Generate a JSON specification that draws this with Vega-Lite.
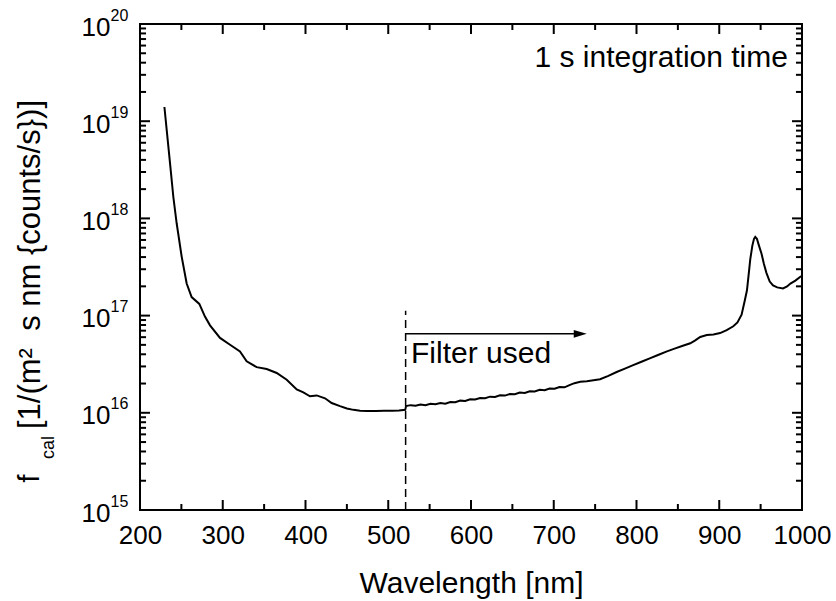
{
  "$schema": "https://vega.github.io/schema/vega-lite/v6.json",
  "width": 662,
  "height": 486,
  "autosize": {"type": "none"},
  "padding": {"left": 140, "top": 24, "right": 34, "bottom": 91},
  "background": "white",
  "config": {
    "font": "Liberation Sans",
    "view": {"stroke": "black", "strokeWidth": 2},
    "axis": {
      "grid": false,
      "domain": false,
      "ticks": false,
      "labelFont": "Liberation Sans",
      "titleFont": "Liberation Sans",
      "labelColor": "black",
      "titleColor": "black",
      "titleFontWeight": "normal",
      "labelFontSize": 26,
      "titleFontSize": 30
    }
  },
  "datasets": {
    "xmajor": [{"v": 200}, {"v": 300}, {"v": 400}, {"v": 500}, {"v": 600}, {"v": 700}, {"v": 800}, {"v": 900}, {"v": 1000}],
    "xminor": [{"v": 250}, {"v": 350}, {"v": 450}, {"v": 550}, {"v": 650}, {"v": 750}, {"v": 850}, {"v": 950}],
    "ymajor": [{"v": 1e15}, {"v": 1e16}, {"v": 1e17}, {"v": 1e18}, {"v": 1e19}, {"v": 1e20}],
    "yminor": [
      {"v": 2e15}, {"v": 3e15}, {"v": 4e15}, {"v": 5e15}, {"v": 6e15}, {"v": 7e15}, {"v": 8e15}, {"v": 9e15},
      {"v": 2e16}, {"v": 3e16}, {"v": 4e16}, {"v": 5e16}, {"v": 6e16}, {"v": 7e16}, {"v": 8e16}, {"v": 9e16},
      {"v": 2e17}, {"v": 3e17}, {"v": 4e17}, {"v": 5e17}, {"v": 6e17}, {"v": 7e17}, {"v": 8e17}, {"v": 9e17},
      {"v": 2e18}, {"v": 3e18}, {"v": 4e18}, {"v": 5e18}, {"v": 6e18}, {"v": 7e18}, {"v": 8e18}, {"v": 9e18},
      {"v": 2e19}, {"v": 3e19}, {"v": 4e19}, {"v": 5e19}, {"v": 6e19}, {"v": 7e19}, {"v": 8e19}, {"v": 9e19}
    ],
    "curve": [
      {"wl": 229.5, "f": 1.40e19},
      {"wl": 236.3, "f": 3.69e18},
      {"wl": 240.3, "f": 1.66e18},
      {"wl": 244.3, "f": 8.91e17},
      {"wl": 250.3, "f": 4.07e17},
      {"wl": 256.4, "f": 2.14e17},
      {"wl": 262.4, "f": 1.55e17},
      {"wl": 271.7, "f": 1.32e17},
      {"wl": 278.5, "f": 9.77e16},
      {"wl": 284.6, "f": 7.94e16},
      {"wl": 296.7, "f": 5.89e16},
      {"wl": 308.8, "f": 5.01e16},
      {"wl": 320.8, "f": 4.27e16},
      {"wl": 328.9, "f": 3.39e16},
      {"wl": 341.0, "f": 2.95e16},
      {"wl": 353.1, "f": 2.82e16},
      {"wl": 365.2, "f": 2.57e16},
      {"wl": 377.3, "f": 2.19e16},
      {"wl": 389.4, "f": 1.74e16},
      {"wl": 397.4, "f": 1.62e16},
      {"wl": 405.4, "f": 1.48e16},
      {"wl": 413.5, "f": 1.51e16},
      {"wl": 423.6, "f": 1.41e16},
      {"wl": 431.6, "f": 1.26e16},
      {"wl": 441.7, "f": 1.17e16},
      {"wl": 450, "f": 1.109e16},
      {"wl": 458, "f": 1.072e16},
      {"wl": 466, "f": 1.052e16},
      {"wl": 475, "f": 1.042e16},
      {"wl": 485, "f": 1.042e16},
      {"wl": 495, "f": 1.047e16},
      {"wl": 505, "f": 1.052e16},
      {"wl": 513, "f": 1.059e16},
      {"wl": 520.5, "f": 1.072e16},
      {"wl": 521.5, "f": 1.175e16},
      {"wl": 527, "f": 1.199e16},
      {"wl": 533, "f": 1.180e16},
      {"wl": 539, "f": 1.219e16},
      {"wl": 545, "f": 1.199e16},
      {"wl": 551, "f": 1.239e16},
      {"wl": 557, "f": 1.222e16},
      {"wl": 563, "f": 1.262e16},
      {"wl": 569, "f": 1.242e16},
      {"wl": 575, "f": 1.291e16},
      {"wl": 581, "f": 1.282e16},
      {"wl": 587, "f": 1.334e16},
      {"wl": 593, "f": 1.324e16},
      {"wl": 599, "f": 1.377e16},
      {"wl": 605, "f": 1.368e16},
      {"wl": 611, "f": 1.422e16},
      {"wl": 617, "f": 1.413e16},
      {"wl": 623, "f": 1.466e16},
      {"wl": 629, "f": 1.455e16},
      {"wl": 635, "f": 1.514e16},
      {"wl": 641, "f": 1.503e16},
      {"wl": 647, "f": 1.563e16},
      {"wl": 653, "f": 1.552e16},
      {"wl": 659, "f": 1.614e16},
      {"wl": 665, "f": 1.603e16},
      {"wl": 671, "f": 1.667e16},
      {"wl": 677, "f": 1.656e16},
      {"wl": 683, "f": 1.722e16},
      {"wl": 689, "f": 1.710e16},
      {"wl": 695, "f": 1.778e16},
      {"wl": 701, "f": 1.766e16},
      {"wl": 707, "f": 1.837e16},
      {"wl": 713, "f": 1.828e16},
      {"wl": 719, "f": 1.928e16},
      {"wl": 725, "f": 2.018e16},
      {"wl": 732, "f": 2.089e16},
      {"wl": 740, "f": 2.113e16},
      {"wl": 748, "f": 2.163e16},
      {"wl": 756, "f": 2.213e16},
      {"wl": 766, "f": 2.399e16},
      {"wl": 776, "f": 2.630e16},
      {"wl": 786, "f": 2.851e16},
      {"wl": 796, "f": 3.090e16},
      {"wl": 806, "f": 3.350e16},
      {"wl": 816, "f": 3.631e16},
      {"wl": 826, "f": 3.936e16},
      {"wl": 836, "f": 4.266e16},
      {"wl": 846, "f": 4.571e16},
      {"wl": 856, "f": 4.898e16},
      {"wl": 865, "f": 5.188e16},
      {"wl": 871, "f": 5.559e16},
      {"wl": 877, "f": 6.026e16},
      {"wl": 885, "f": 6.310e16},
      {"wl": 893, "f": 6.383e16},
      {"wl": 901, "f": 6.607e16},
      {"wl": 909, "f": 7.079e16},
      {"wl": 917, "f": 7.762e16},
      {"wl": 922, "f": 8.511e16},
      {"wl": 927, "f": 1.023e17},
      {"wl": 931, "f": 1.445e17},
      {"wl": 933.5, "f": 1.820e17},
      {"wl": 935.5, "f": 2.630e17},
      {"wl": 937.5, "f": 3.802e17},
      {"wl": 940, "f": 5.248e17},
      {"wl": 942, "f": 6.166e17},
      {"wl": 943.5, "f": 6.457e17},
      {"wl": 945.5, "f": 6.166e17},
      {"wl": 948, "f": 5.248e17},
      {"wl": 951, "f": 4.365e17},
      {"wl": 954, "f": 3.388e17},
      {"wl": 957, "f": 2.754e17},
      {"wl": 961, "f": 2.239e17},
      {"wl": 965, "f": 2.042e17},
      {"wl": 970, "f": 1.950e17},
      {"wl": 977, "f": 1.905e17},
      {"wl": 982, "f": 1.995e17},
      {"wl": 986, "f": 2.138e17},
      {"wl": 992, "f": 2.291e17},
      {"wl": 998, "f": 2.512e17},
      {"wl": 1000, "f": 2.570e17}
    ]
  },
  "resolve": {"axis": {"x": "independent", "y": "independent"}},
  "layer": [
    {
      "data": {"name": "curve"},
      "mark": {"type": "line", "color": "black", "strokeWidth": 2},
      "encoding": {
        "x": {
          "field": "wl", "type": "quantitative",
          "scale": {"domain": [200, 1000], "nice": false, "zero": false},
          "axis": {
            "orient": "bottom",
            "values": [200, 300, 400, 500, 600, 700, 800, 900, 1000],
            "format": "d",
            "ticks": false,
            "labelPadding": 33,
            "labelBaseline": "alphabetic",
            "labelFlush": false,
            "labelFontSize": 26,
            "title": "Wavelength [nm]",
            "titleFontSize": 30,
            "titleX": 331,
            "titleY": 82,
            "titleBaseline": "alphabetic",
            "titleAlign": "center"
          }
        },
        "y": {
          "field": "f", "type": "quantitative",
          "scale": {"type": "log", "domain": [1e15, 1e20], "nice": false},
          "axis": {
            "orient": "left",
            "values": [1e15, 1e16, 1e17, 1e18, 1e19, 1e20],
            "ticks": false,
            "labelExpr": "'10'",
            "labelPadding": 30,
            "labelAlign": "right",
            "labelBaseline": "alphabetic",
            "labelOffset": 11,
            "labelFontSize": 26,
            "title": "[1/(m²\u00a0 s nm {counts/s})]",
            "titleFontSize": 31,
            "titleAngle": -90,
            "titleX": -101,
            "titleY": 240,
            "titleBaseline": "alphabetic",
            "titleAlign": "center"
          }
        }
      }
    },
    {
      "data": {"values": [{"wl": 521, "lo": 1e15, "hi": 1.12e17}]},
      "mark": {"type": "rule", "color": "black", "strokeWidth": 1.5, "strokeDash": [8, 5]},
      "encoding": {
        "x": {
          "field": "wl", "type": "quantitative",
          "scale": {"domain": [200, 1000], "nice": false, "zero": false},
          "axis": {
            "orient": "top",
            "ticks": false,
            "labels": false,
            "title": "cal",
            "titleFontSize": 18,
            "titleAngle": -90,
            "titleX": -87,
            "titleY": 423,
            "titleBaseline": "alphabetic",
            "titleAlign": "center"
          }
        },
        "y": {
          "field": "lo", "type": "quantitative",
          "scale": {"type": "log", "domain": [1e15, 1e20], "nice": false},
          "axis": {
            "orient": "left",
            "values": [1e15, 1e16, 1e17, 1e18, 1e19, 1e20],
            "ticks": false,
            "labelExpr": "'' + round(log(datum.value) / LN10)",
            "labelPadding": 30,
            "labelAlign": "left",
            "labelBaseline": "alphabetic",
            "labelOffset": -4,
            "labelFontSize": 16,
            "title": "f",
            "titleFontSize": 30,
            "titleAngle": -90,
            "titleX": -102,
            "titleY": 454,
            "titleBaseline": "alphabetic",
            "titleAlign": "center"
          }
        },
        "y2": {"field": "hi"}
      }
    },
    {
      "data": {"values": [{"a": 521, "b": 732, "f": 6.5e16}]},
      "mark": {"type": "rule", "color": "black", "strokeWidth": 1.5},
      "encoding": {
        "x": {"field": "a", "type": "quantitative", "scale": {"domain": [200, 1000], "nice": false, "zero": false}, "axis": null},
        "x2": {"field": "b"},
        "y": {"field": "f", "type": "quantitative", "scale": {"type": "log", "domain": [1e15, 1e20], "nice": false}, "axis": null}
      }
    },
    {
      "data": {"values": [{"wl": 732, "f": 6.5e16}]},
      "mark": {"type": "point", "shape": "M-1,-0.6L1,0L-1,0.6Z", "filled": true, "color": "black", "opacity": 1, "size": 169, "strokeWidth": 0},
      "encoding": {
        "x": {"field": "wl", "type": "quantitative", "scale": {"domain": [200, 1000], "nice": false, "zero": false}, "axis": null},
        "y": {"field": "f", "type": "quantitative", "scale": {"type": "log", "domain": [1e15, 1e20], "nice": false}, "axis": null}
      }
    },
    {
      "data": {"values": [{"wl": 527.5, "f": 3.25e16, "label": "Filter used"}]},
      "mark": {"type": "text", "align": "left", "baseline": "alphabetic", "fontSize": 30, "font": "Liberation Sans", "color": "black"},
      "encoding": {
        "x": {"field": "wl", "type": "quantitative", "scale": {"domain": [200, 1000], "nice": false, "zero": false}, "axis": null},
        "y": {"field": "f", "type": "quantitative", "scale": {"type": "log", "domain": [1e15, 1e20], "nice": false}, "axis": null},
        "text": {"field": "label"}
      }
    },
    {
      "data": {"values": [{"wl": 983, "f": 3.64e19, "label": "1 s integration time"}]},
      "mark": {"type": "text", "align": "right", "baseline": "alphabetic", "fontSize": 30, "font": "Liberation Sans", "color": "black"},
      "encoding": {
        "x": {"field": "wl", "type": "quantitative", "scale": {"domain": [200, 1000], "nice": false, "zero": false}, "axis": null},
        "y": {"field": "f", "type": "quantitative", "scale": {"type": "log", "domain": [1e15, 1e20], "nice": false}, "axis": null},
        "text": {"field": "label"}
      }
    },
    {
      "data": {"name": "xmajor"},
      "mark": {"type": "rule", "color": "black", "strokeWidth": 2},
      "encoding": {
        "x": {"field": "v", "type": "quantitative", "scale": {"domain": [200, 1000], "nice": false, "zero": false}, "axis": null},
        "y": {"datum": 1e15, "type": "quantitative", "scale": {"type": "log", "domain": [1e15, 1e20], "nice": false}, "axis": null},
        "y2": {"datum": 1.267e15}
      }
    },
    {
      "data": {"name": "xmajor"},
      "mark": {"type": "rule", "color": "black", "strokeWidth": 2},
      "encoding": {
        "x": {"field": "v", "type": "quantitative", "scale": {"domain": [200, 1000], "nice": false, "zero": false}, "axis": null},
        "y": {"datum": 1e20, "type": "quantitative", "scale": {"type": "log", "domain": [1e15, 1e20], "nice": false}, "axis": null},
        "y2": {"datum": 7.89e19}
      }
    },
    {
      "data": {"name": "xminor"},
      "mark": {"type": "rule", "color": "black", "strokeWidth": 2},
      "encoding": {
        "x": {"field": "v", "type": "quantitative", "scale": {"domain": [200, 1000], "nice": false, "zero": false}, "axis": null},
        "y": {"datum": 1e15, "type": "quantitative", "scale": {"type": "log", "domain": [1e15, 1e20], "nice": false}, "axis": null},
        "y2": {"datum": 1.153e15}
      }
    },
    {
      "data": {"name": "xminor"},
      "mark": {"type": "rule", "color": "black", "strokeWidth": 2},
      "encoding": {
        "x": {"field": "v", "type": "quantitative", "scale": {"domain": [200, 1000], "nice": false, "zero": false}, "axis": null},
        "y": {"datum": 1e20, "type": "quantitative", "scale": {"type": "log", "domain": [1e15, 1e20], "nice": false}, "axis": null},
        "y2": {"datum": 8.67e19}
      }
    },
    {
      "data": {"name": "ymajor"},
      "mark": {"type": "rule", "color": "black", "strokeWidth": 2},
      "encoding": {
        "x": {"datum": 200, "type": "quantitative", "scale": {"domain": [200, 1000], "nice": false, "zero": false}, "axis": null},
        "x2": {"datum": 212.1},
        "y": {"field": "v", "type": "quantitative", "scale": {"type": "log", "domain": [1e15, 1e20], "nice": false}, "axis": null}
      }
    },
    {
      "data": {"name": "ymajor"},
      "mark": {"type": "rule", "color": "black", "strokeWidth": 2},
      "encoding": {
        "x": {"datum": 1000, "type": "quantitative", "scale": {"domain": [200, 1000], "nice": false, "zero": false}, "axis": null},
        "x2": {"datum": 987.9},
        "y": {"field": "v", "type": "quantitative", "scale": {"type": "log", "domain": [1e15, 1e20], "nice": false}, "axis": null}
      }
    },
    {
      "data": {"name": "yminor"},
      "mark": {"type": "rule", "color": "black", "strokeWidth": 2},
      "encoding": {
        "x": {"datum": 200, "type": "quantitative", "scale": {"domain": [200, 1000], "nice": false, "zero": false}, "axis": null},
        "x2": {"datum": 207.3},
        "y": {"field": "v", "type": "quantitative", "scale": {"type": "log", "domain": [1e15, 1e20], "nice": false}, "axis": null}
      }
    },
    {
      "data": {"name": "yminor"},
      "mark": {"type": "rule", "color": "black", "strokeWidth": 2},
      "encoding": {
        "x": {"datum": 1000, "type": "quantitative", "scale": {"domain": [200, 1000], "nice": false, "zero": false}, "axis": null},
        "x2": {"datum": 992.7},
        "y": {"field": "v", "type": "quantitative", "scale": {"type": "log", "domain": [1e15, 1e20], "nice": false}, "axis": null}
      }
    }
  ]
}
